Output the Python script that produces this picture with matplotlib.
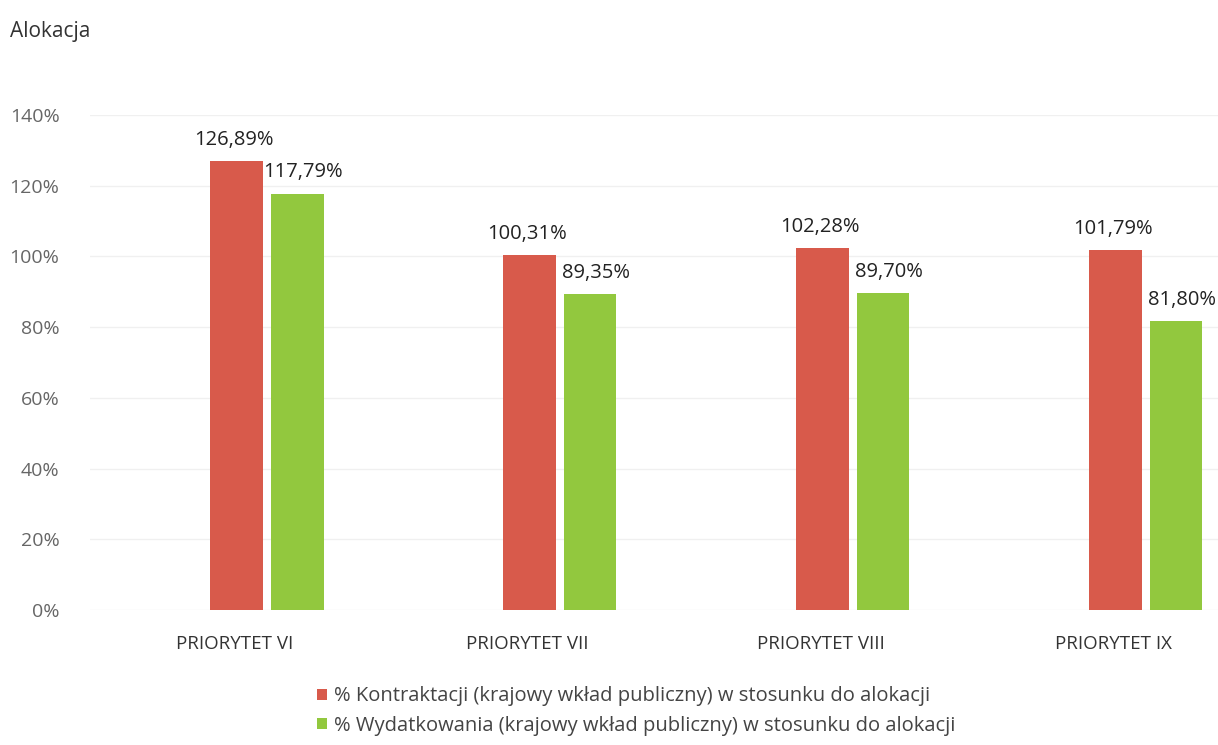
import matplotlib
matplotlib.use('Agg')
import matplotlib.pyplot as plt
import numpy as np

categories = ['PRIORYTET VI', 'PRIORYTET VII', 'PRIORYTET VIII', 'PRIORYTET IX']
kontraktacja = [126.89, 100.31, 102.28, 101.79]
wydatkowanie = [117.79, 89.35, 89.70, 81.80]
series_names = ['% Kontraktacji (krajowy wkład publiczny) w stosunku do alokacji',
                '% Wydatkowania (krajowy wkład publiczny) w stosunku do alokacji']
y_ticks = [0, 20, 40, 60, 80, 100, 120, 140]

RED = '#d85a4b'
GREEN = '#92c83e'

plt.rcParams['font.family'] = ['Open Sans', 'DejaVu Sans']

fig = plt.figure(figsize=(12.18, 7.45), dpi=100)
ax = fig.add_axes([90 / 1218, 135 / 745, 1 - 90 / 1218, 495 / 745])

x = np.arange(len(categories))
w = 0.18
off = 0.103
b1 = ax.bar(x - off, kontraktacja, w, color=RED, label=series_names[0], zorder=3)
b2 = ax.bar(x + off, wydatkowanie, w, color=GREEN, label=series_names[1], zorder=3)

fmt = lambda v: f'{v:.2f}'.replace('.', ',') + '%'
for bars, vals, dx in ((b1, kontraktacja, -0.01), (b2, wydatkowanie, 0.02)):
    for r, v in zip(bars, vals):
        ax.annotate(fmt(v), (r.get_x() + r.get_width() / 2 + dx, v),
                    xytext=(0, 8), textcoords='offset points',
                    ha='center', va='bottom', fontsize=14.5, color='#222222')

ax.set_xlim(-0.604, 3.246)
ax.set_ylim(0, 140)
ax.set_yticks(y_ticks)
ax.set_yticklabels([f'{t}%' for t in y_ticks], fontsize=14, color='#666666')
ax.set_xticks(x - 0.11)
ax.set_xticklabels(categories, fontsize=13.5, color='#333333')
ax.tick_params(length=0)
ax.tick_params(axis='x', pad=18)
ax.tick_params(axis='y', pad=22)
ax.yaxis.grid(True, color='#f0f0f0', linewidth=1, zorder=0)
for s in ax.spines.values():
    s.set_visible(False)

fig.text(10 / 1218, 1 - 32 / 745, 'Alokacja', fontsize=15, color='#333333', va='center')

fig.legend(handles=[b1, b2], loc='center', bbox_to_anchor=(0.522, 1 - 711 / 745),
           ncol=1, frameon=False, fontsize=14.5, handlelength=0.5, handleheight=0.5,
           handletextpad=0.35, labelspacing=0.45, labelcolor='#444444')

fig.savefig('out.png', dpi=100)
